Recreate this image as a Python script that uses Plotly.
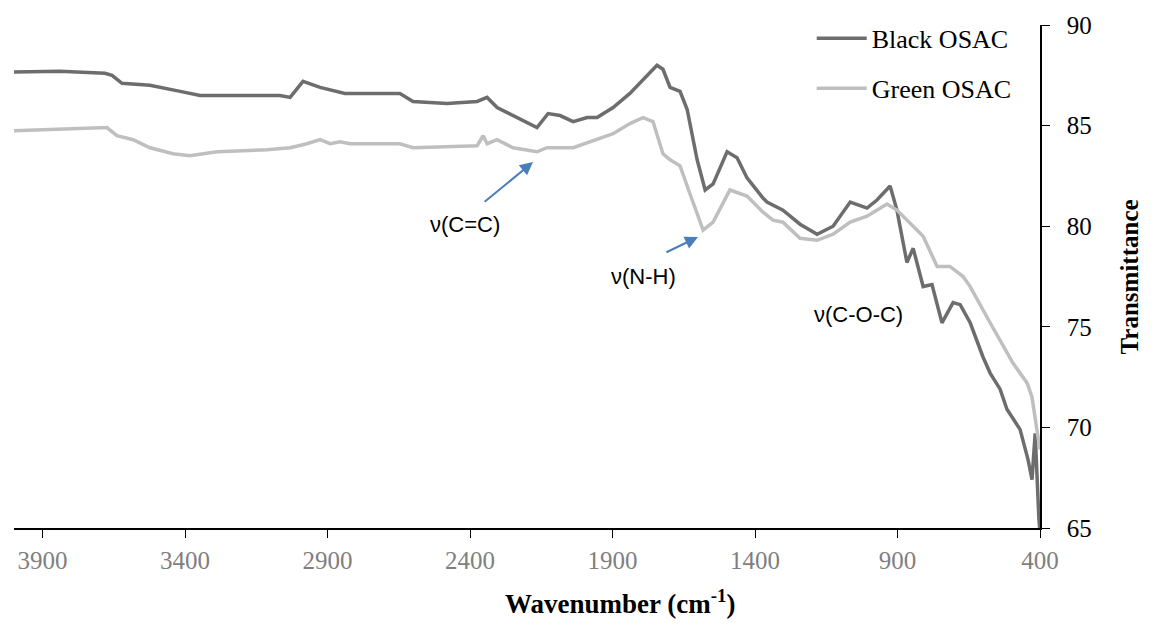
import plotly.graph_objects as go

# Wavenumber (cm-1) and transmittance values
black_x = [4000, 3839, 3681, 3656, 3621, 3523, 3417, 3347, 3067, 3031, 2986, 2926, 2839, 2646,
           2600, 2481, 2375, 2340, 2305, 2249, 2165, 2126, 2084, 2038, 1989, 1954, 1898, 1839,
           1779, 1744, 1723, 1698, 1663, 1638, 1603, 1575, 1547, 1498, 1463, 1428, 1372, 1358,
           1302, 1242, 1182, 1126, 1066, 1007, 972, 926, 902, 867, 845, 810, 779, 744, 705, 680,
           645, 600, 575, 540, 516, 470, 442, 428, 417, 411, 404, 400]
black_y = [87.66, 87.7, 87.6, 87.5, 87.1, 87.0, 86.7, 86.5, 86.5, 86.4, 87.2, 86.9, 86.6, 86.6,
           86.2, 86.1, 86.2, 86.4, 85.9, 85.5, 84.9, 85.6, 85.5, 85.2, 85.4, 85.4, 85.9, 86.6,
           87.5, 88.0, 87.8, 86.9, 86.7, 85.8, 83.3, 81.8, 82.1, 83.7, 83.4, 82.4, 81.4, 81.2,
           80.8, 80.1, 79.6, 80.0, 81.2, 80.9, 81.3, 82.0, 80.8, 78.2, 78.9, 77.0, 77.1, 75.2,
           76.2, 76.1, 75.2, 73.5, 72.7, 71.9, 70.9, 69.9, 68.4, 67.4, 69.7, 67.5, 65.5, 64.8]

green_x = [4000, 3723, 3674, 3639, 3582, 3523, 3442, 3382, 3288, 3112, 3031, 2972, 2926, 2891,
           2856, 2821, 2646, 2600, 2375, 2354, 2340, 2305, 2249, 2165, 2130, 2038, 1954, 1898,
           1839, 1793, 1758, 1723, 1698, 1663, 1628, 1582, 1547, 1488, 1428, 1372, 1337, 1302,
           1242, 1182, 1126, 1066, 1007, 937, 902, 845, 810, 761, 716, 670, 645, 575, 495, 445,
           428, 411, 400]
green_y = [84.75, 84.9, 84.9, 84.5, 84.3, 83.9, 83.6, 83.5, 83.7, 83.8, 83.9, 84.1, 84.3, 84.1,
           84.2, 84.1, 84.1, 83.9, 84.0, 84.5, 84.1, 84.3, 83.9, 83.7, 83.9, 83.9, 84.3, 84.6,
           85.1, 85.4, 85.2, 83.6, 83.3, 83.0, 81.6, 79.8, 80.2, 81.8, 81.5, 80.7, 80.3, 80.2,
           79.4, 79.3, 79.6, 80.2, 80.5, 81.1, 80.8, 80.0, 79.5, 78.0, 78.0, 77.5, 77.0, 75.2,
           73.2, 72.2, 71.5, 69.9, 68.9]

series_names = ["Black OSAC", "Green OSAC"]
x_ticks = [3900, 3400, 2900, 2400, 1900, 1400, 900, 400]
y_ticks = [65, 70, 75, 80, 85, 90]

fig = go.Figure()
fig.add_trace(go.Scatter(x=black_x, y=black_y, mode="lines", name=series_names[0],
                         line=dict(color="#6d6d6d", width=3.5), legendgroup="a"))
fig.add_trace(go.Scatter(x=green_x, y=green_y, mode="lines", name=series_names[1],
                         line=dict(color="#bfbfbf", width=3.5), legendgroup="b"))

serif = "Liberation Serif, Times New Roman, serif"
sans = "Liberation Sans, Arial, sans-serif"

fig.update_layout(
    width=1157, height=625,
    margin=dict(l=14, r=117, t=25, b=97, autoexpand=False),
    paper_bgcolor="white", plot_bgcolor="white",
    showlegend=True,
    legend=dict(x=0.7775, y=1.02, xanchor="left", yanchor="top",
                font=dict(family=serif, size=26, color="black"),
                bgcolor="rgba(0,0,0,0)", tracegroupgap=13, itemwidth=50,
                traceorder="grouped"),
    xaxis=dict(range=[4000, 400], tickvals=x_ticks, showgrid=False, zeroline=False,
               showline=True, linecolor="black", linewidth=1.5,
               ticks="outside", ticklen=8, tickcolor="black", tickwidth=1.3,
               tickfont=dict(family=serif, size=25, color="#7f7f7f"),
               ticklabelstandoff=1),
    yaxis=dict(range=[65, 90], tickvals=y_ticks, side="right", showgrid=False, zeroline=False,
               showline=True, linecolor="black", linewidth=1.5,
               ticks="outside", ticklen=8, tickcolor="black", tickwidth=1.3,
               tickfont=dict(family=serif, size=25, color="black"),
               ticklabelstandoff=12),
)

fig.add_annotation(x=0.5906, y=-0.147, xref="paper", yref="paper",
                   xanchor="center", yanchor="middle",
                   text="<b>Wavenumber (cm<sup>-1</sup>)</b>", showarrow=False,
                   font=dict(family=serif, size=27, color="black"))
fig.add_annotation(x=1.0877, y=0.5, xref="paper", yref="paper", textangle=-90,
                   xanchor="center", yanchor="middle",
                   text="<b>Transmittance</b>", showarrow=False,
                   font=dict(family=serif, size=25, color="black"))

arrow_color = "#4a7ebb"
fig.add_annotation(x=2179, y=83.19, ax=2354, ay=81.15, xref="x", yref="y", axref="x", ayref="y",
                   text="", showarrow=True, arrowhead=2, arrowsize=1.3, arrowwidth=2,
                   arrowcolor=arrow_color)
fig.add_annotation(x=1600, y=79.46, ax=1716, ay=78.67, xref="x", yref="y", axref="x", ayref="y",
                   text="", showarrow=True, arrowhead=2, arrowsize=1.3, arrowwidth=2,
                   arrowcolor=arrow_color)
fig.add_annotation(x=2417, y=80.06, xref="x", yref="y", text="ν(C=C)", showarrow=False,
                   font=dict(family=sans, size=22, color="black"))
fig.add_annotation(x=1793, y=77.5, xref="x", yref="y", text="ν(N-H)", showarrow=False,
                   font=dict(family=sans, size=22, color="black"))
fig.add_annotation(x=1038, y=75.6, xref="x", yref="y", text="ν(C-O-C)", showarrow=False,
                   font=dict(family=sans, size=22, color="black"))

fig.write_html("out.html")
